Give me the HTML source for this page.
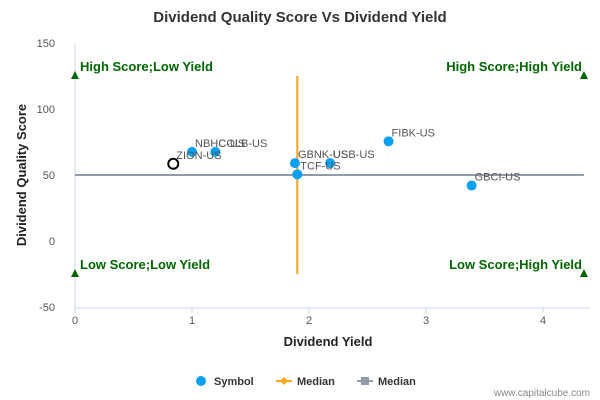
<!DOCTYPE html>
<html><head><meta charset="utf-8"><style>
body{margin:0;background:#fff}
svg{font-family:"Liberation Sans",sans-serif;display:block}
</style></head><body>
<svg id="c" width="600" height="400">
<text x="300" y="22" text-anchor="middle" font-size="15" font-weight="bold" fill="#333">Dividend Quality Score Vs Dividend Yield</text>
<g id="axes"></g>
<g id="marks"></g>
<text x="328" y="346" text-anchor="middle" font-size="13" font-weight="bold" fill="#222">Dividend Yield</text>
<text transform="translate(26,175) rotate(-90)" text-anchor="middle" font-size="13" font-weight="bold" fill="#222">Dividend Quality Score</text>
<g font-size="11" font-weight="bold" fill="#333">
<g><circle cx="201" cy="381" r="5" fill="#0aa0f0"/><text x="214" y="385">Symbol</text></g>
<g><line x1="276" y1="381" x2="292" y2="381" stroke="#f8a51b" stroke-width="2"/><path d="M284,377 L288,381 L284,385 L280,381Z" fill="#f8a51b"/><text x="297" y="385">Median</text></g>
<g><line x1="357" y1="381" x2="373" y2="381" stroke="#939aa8" stroke-width="2"/><rect x="361" y="377" width="8" height="8" fill="#939aa8"/><text x="378" y="385">Median</text></g>
</g>
<text x="590" y="396" text-anchor="end" font-size="10" fill="#888">www.capitalcube.com</text>
</svg>
<script>
const symbols=["NBHC-US","COLB-US","ZION-US","GBNK-US","USB-US","TCF-US","FIBK-US","GBCI-US"];
const yields=[1.0,1.2,0.84,1.88,2.18,1.9,2.68,3.39];
const scores=[67.5,67.5,58.5,59,59,50.5,75.5,42];
const highlighted=[false,false,true,false,false,false,false,false];
const xTicks=[0,1,2,3,4];
const yTicks=[150,100,50,0,-50];
const medianYield=1.9, medianScore=50;
const quadrants=["High Score;Low Yield","High Score;High Yield","Low Score;Low Yield","Low Score;High Yield"];
const xMax=4.35, qHigh=125, qLow=-25;
const X=v=>75+v*117, Y=v=>241-v*1.32;
const NS="http://www.w3.org/2000/svg";
function mk(p,t,a){const e=document.createElementNS(NS,t);for(const k in a)e.setAttribute(k,a[k]);p.appendChild(e);return e;}
const ax=document.getElementById('axes'), mg=document.getElementById('marks');
let e=mk(ax,'line',{x1:X(0),x2:X(0),y1:Y(150),y2:Y(-50)+1,stroke:'#ccd6eb'});

e=mk(ax,'line',{x1:X(0),x2:590,y1:Y(-50)+1,y2:Y(-50)+1,stroke:'#ccd6eb'});

xTicks.forEach(t=>{
 mk(ax,'line',{x1:X(t),x2:X(t),y1:Y(-50)+1,y2:Y(-50)+6,stroke:'#ccd6eb'});
 const tx=mk(ax,'text',{x:X(t),y:324,'text-anchor':'middle','font-size':11,fill:'#555'});tx.textContent=t;
 
});
yTicks.forEach(t=>{
 const tx=mk(ax,'text',{x:55,y:Y(t)+4,'text-anchor':'end','font-size':11,fill:'#555'});tx.textContent=t;
 
});
e=mk(mg,'line',{x1:X(0),x2:X(xMax),y1:Y(medianScore),y2:Y(medianScore),stroke:'#939aa8',"stroke-width":2});

e=mk(mg,'line',{x1:X(medianYield),x2:X(medianYield),y1:Y(qHigh),y2:Y(qLow),stroke:'#f8a51b',"stroke-width":2});

const qpos=[[0,qHigh,'start',80],[xMax,qHigh,'end',582],[0,qLow,'start',80],[xMax,qLow,'end',582]];
qpos.forEach((q,i)=>{
 const x=X(q[0]),y=Y(q[1]);
 const tr=mk(mg,'path',{d:`M${x},${y-5} L${x+4},${y+3} L${x-4},${y+3}Z`,fill:'#006600'});
 
 const tx=mk(mg,'text',{x:q[3],y:y-5,'text-anchor':q[2],'font-size':13,'font-weight':'bold',fill:'#006600'});tx.textContent=quadrants[i];
 
});
symbols.forEach((s,i)=>{
 const x=X(yields[i]),y=Y(scores[i]);
 const c=highlighted[i]?mk(mg,'circle',{cx:x,cy:y,r:5,fill:'#fff',stroke:'#000','stroke-width':2}):mk(mg,'circle',{cx:x,cy:y,r:5,fill:'#0aa0f0'});
 
 const tx=mk(mg,'text',{x:x+3,y:y-5,'font-size':11,fill:'#555'});tx.textContent=s;
 
});
</script>
</body></html>
